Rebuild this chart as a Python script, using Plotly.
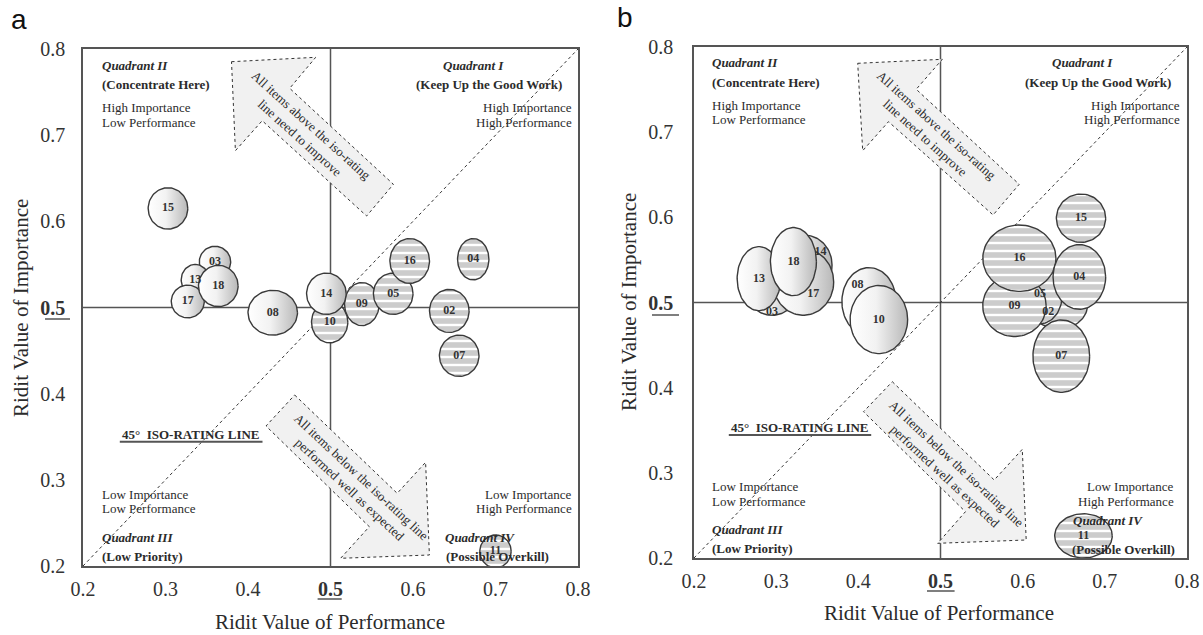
import numpy as np
import plotly.graph_objects as go

W, H = 1203, 635

# ---------------- Data: panel a (draw order) ----------------
a_items = ["03", "13", "17", "18", "15", "08", "10", "09", "14", "05", "16", "04", "02", "07", "11"]
a_perf = [0.360, 0.336, 0.327, 0.364, 0.303, 0.430, 0.499, 0.538, 0.495, 0.576, 0.596, 0.673, 0.644, 0.656, 0.700]
a_imp = [0.553, 0.532, 0.507, 0.525, 0.615, 0.494, 0.483, 0.504, 0.516, 0.516, 0.554, 0.556, 0.496, 0.444, 0.217]
a_rx = [0.019, 0.017, 0.020, 0.024, 0.024, 0.030, 0.022, 0.021, 0.024, 0.024, 0.024, 0.019, 0.024, 0.024, 0.019]
a_ry = [0.018, 0.018, 0.019, 0.024, 0.024, 0.026, 0.024, 0.025, 0.024, 0.024, 0.026, 0.024, 0.025, 0.024, 0.019]
a_group = ["L", "L", "L", "L", "L", "L", "P", "P", "L", "P", "P", "P", "P", "P", "P"]

# ---------------- Data: panel b (draw order) ----------------
b_items = ["03", "14", "17", "13", "18", "08", "10", "02", "05", "09", "16", "04", "07", "15", "11"]
b_perf = [0.295, 0.335, 0.333, 0.279, 0.321, 0.413, 0.425, 0.644, 0.621, 0.590, 0.596, 0.669, 0.647, 0.671, 0.674]
b_imp = [0.505, 0.544, 0.524, 0.528, 0.548, 0.501, 0.480, 0.497, 0.508, 0.496, 0.552, 0.530, 0.437, 0.599, 0.226]
b_rx = [0.026, 0.033, 0.037, 0.0265, 0.028, 0.033, 0.035, 0.035, 0.027, 0.0386, 0.0445, 0.032, 0.0345, 0.030, 0.035]
b_ry = [0.020, 0.035, 0.039, 0.0376, 0.040, 0.040, 0.040, 0.028, 0.033, 0.036, 0.039, 0.038, 0.0425, 0.0284, 0.026]
b_group = ["L", "L", "L", "L", "L", "L", "L", "P", "P", "P", "P", "P", "P", "P", "P"]
# label positions where the label is not at the bubble centre (occluded bubbles)
b_label_pos = {"03": (0.295, 0.489), "08": (0.399, 0.520), "14": (0.354, 0.559),
               "17": (0.345, 0.510), "05": (0.621, 0.510), "02": (0.631, 0.489)}

ticks = [0.2, 0.3, 0.4, 0.5, 0.6, 0.7, 0.8]
tick_text = ["0.2", "0.3", "0.4", "<b>0.5</b>", "0.6", "0.7", "0.8"]

SERIF = "Liberation Serif"
TXT = "#2b2b2b"


def PX(x):
    return x / W


def PY(y):
    return 1 - y / H


fig = go.Figure()


def add_bubbles(items, perf, imp, rx, ry, group, xa, ya, label_pos):
    t = np.linspace(0, 2 * np.pi, 91)
    for it, cx, cy, a, b, g in zip(items, perf, imp, rx, ry, group):
        ex = cx + a * np.cos(t)
        ey = cy + b * np.sin(t)
        kw = dict(x=ex, y=ey, mode="lines", fill="toself", xaxis=xa, yaxis=ya,
                  line=dict(color="#3a3a3a", width=1.4), hoverinfo="skip", showlegend=False)
        if g == "L":
            kw["fillcolor"] = "#e6e6e6"
            kw["fillgradient"] = dict(type="horizontal",
                                      colorscale=[[0, "#ffffff"], [0.45, "#f2f2f2"], [1, "#b8b8b8"]])
        else:
            kw["fillcolor"] = "#cccccc"
            kw["fillpattern"] = dict(shape="-", fgcolor="#ffffff", bgcolor="#cccccc",
                                     size=8, solidity=0.3)
        fig.add_trace(go.Scatter(**kw))
    lx = [label_pos.get(it, (cx, cy))[0] for it, cx, cy in zip(items, perf, imp)]
    ly = [label_pos.get(it, (cx, cy))[1] for it, cx, cy in zip(items, perf, imp)]
    fig.add_trace(go.Scatter(x=lx, y=ly, mode="text", text=["<b>%s</b>" % i for i in items],
                             textfont=dict(family=SERIF, size=12, color="#333333"),
                             xaxis=xa, yaxis=ya, hoverinfo="skip", showlegend=False))


add_bubbles(a_items, a_perf, a_imp, a_rx, a_ry, a_group, "x", "y", {})
add_bubbles(b_items, b_perf, b_imp, b_rx, b_ry, b_group, "x2", "y2", b_label_pos)

axis_common = dict(range=[0.2, 0.8], tickvals=ticks, ticktext=tick_text, showgrid=False,
                   zeroline=False, showline=True, mirror=True, linecolor="#555555", linewidth=1.5,
                   ticks="", automargin=False,
                   tickfont=dict(family=SERIF, size=20, color="#333333"), fixedrange=True)

fig.update_layout(
    template="none",
    width=W, height=H, margin=dict(l=0, r=0, t=0, b=0, autoexpand=False),
    paper_bgcolor="white", plot_bgcolor="white", showlegend=False,
    xaxis=dict(domain=[83 / W, 578 / W], anchor="y", ticklabelstandoff=4, **axis_common),
    yaxis=dict(domain=[PY(566), PY(49)], anchor="x", ticklabelstandoff=12, **axis_common),
    xaxis2=dict(domain=[694 / W, 1187 / W], anchor="y2", ticklabelstandoff=4, **axis_common),
    yaxis2=dict(domain=[PY(558), PY(47)], anchor="x2", ticklabelstandoff=15, **axis_common),
)

shapes = []
for xr, yr in (("x", "y"), ("x2", "y2")):
    shapes.append(dict(type="line", xref=xr, yref=yr, x0=0.5, x1=0.5, y0=0.2, y1=0.8,
                       line=dict(color="#555555", width=1.5), layer="below"))
    shapes.append(dict(type="line", xref=xr, yref=yr, x0=0.2, x1=0.8, y0=0.5, y1=0.5,
                       line=dict(color="#555555", width=1.5), layer="below"))
    shapes.append(dict(type="line", xref=xr, yref=yr, x0=0.2, x1=0.8, y0=0.2, y1=0.8,
                       line=dict(color="#333333", width=1, dash="dot"), layer="below"))

arrows = [
    [(231.5, 61.7), (315.7, 57.3), (289.7, 88.3), (393.4, 184.3), (366.6, 216), (262.2, 120.7), (235.4, 150.7)],
    [(294.7, 395), (397.2, 493.3), (425.6, 462.3), (429.4, 555), (340.6, 558.3), (369.3, 526.7), (266, 426)],
    [(857.7, 63.3), (942.3, 59.3), (916.2, 89.3), (1019.2, 184.3), (993.1, 215), (888.5, 121.7), (862.7, 150.7)],
    [(892.3, 381.7), (994.2, 480), (1022.3, 449.3), (1026.2, 540), (937.7, 543.3), (965.4, 511.7), (863.5, 411.7)],
]
for poly in arrows:
    path = "M " + " L ".join("%.5f,%.5f" % (PX(x), PY(y)) for x, y in poly) + " Z"
    shapes.append(dict(type="path", xref="paper", yref="paper", path=path, fillcolor="#f1f1f1",
                       line=dict(color="#333333", width=1, dash="dot"), layer="above"))

# underlines
for x0, x1, y, w in [(119.8, 262.5, 441.7, 2), (728.8, 871.2, 435, 2),
                     (317.6, 341.7, 599, 1.5), (45, 70, 319, 1.5),
                     (927, 954.6, 591, 1.5), (652, 679, 315, 1.5)]:
    shapes.append(dict(type="line", xref="paper", yref="paper", x0=PX(x0), x1=PX(x1), y0=PY(y), y1=PY(y),
                       line=dict(color="#555555", width=w)))
fig.update_layout(shapes=shapes)

ann = []


def T(text, x, y, anchor="left", size=13, angle=0, family=SERIF, color=TXT):
    ann.append(dict(text=text, x=PX(x), y=PY(y), xref="paper", yref="paper", xanchor=anchor,
                    yanchor="middle", showarrow=False, textangle=angle,
                    font=dict(family=family, size=size, color=color)))


# panel a texts
T("<b><i>Quadrant II</i></b>", 99.5, 65.7)
T("<b>(Concentrate Here)</b>", 99.5, 85)
T("High Importance", 99.5, 107.7)
T("Low Performance", 99.5, 122.7)
T("<b><i>Quadrant I</i></b>", 473.8, 65.7, "center")
T("<b>(Keep Up the Good Work)</b>", 489, 85, "center")
T("High Importance", 574, 107.7, "right")
T("High Performance", 574, 122.7, "right")
T("Low Importance", 99.5, 494)
T("Low Performance", 99.5, 508)
T("<b><i>Quadrant III</i></b>", 99.5, 537.3)
T("<b>(Low Priority)</b>", 99.5, 556.7)
T("Low Importance", 574, 494, "right")
T("High Performance", 574, 508, "right")
T("<b><i>Quadrant IV</i></b>", 442.8, 537.3)
T("<b>(Possible Overkill)</b>", 444, 556.7)
T("<b>45°  ISO-RATING LINE</b>", 191, 434, "center")
T("All items above the iso-rating<br>line need to improve", 305.7, 132, "center", angle=42)
T("All items below the iso-rating line<br>performed well as expected", 355.5, 482.5, "center", angle=43)
T("Ridit Value of Performance", 330, 621.7, "center", size=21)
T("Ridit Value of Importance", 21, 308, "center", size=21, angle=-90)
T("a", 19, 20, "center", size=28, family="Liberation Sans", color="#111111")

# panel b texts
T("<b><i>Quadrant II</i></b>", 710.4, 62.3)
T("<b>(Concentrate Here)</b>", 710.4, 82.7)
T("High Importance", 710.4, 105)
T("Low Performance", 710.4, 119.3)
T("<b><i>Quadrant I</i></b>", 1082.7, 62.3, "center")
T("<b>(Keep Up the Good Work)</b>", 1098, 82.7, "center")
T("High Importance", 1181.5, 105, "right")
T("High Performance", 1181.5, 119.3, "right")
T("Low Importance", 710.4, 486.7)
T("Low Performance", 710.4, 501)
T("<b><i>Quadrant III</i></b>", 710.4, 529.3)
T("<b>(Low Priority)</b>", 710.4, 548.3)
T("Low Importance", 1176, 486.7, "right")
T("High Performance", 1176, 501, "right")
T("<b><i>Quadrant IV</i></b>", 1071, 520)
T("<b>(Possible Overkill)</b>", 1070, 549.3)
T("<b>45°  ISO-RATING LINE</b>", 800, 427.7, "center")
T("All items above the iso-rating<br>line need to improve", 931, 132.5, "center", angle=42)
T("All items below the iso-rating line<br>performed well as expected", 951, 469.5, "center", angle=43)
T("Ridit Value of Performance", 939.4, 613.3, "center", size=21)
T("Ridit Value of Importance", 629, 302, "center", size=21, angle=-90)
T("b", 625, 18, "center", size=28, family="Liberation Sans", color="#111111")

fig.update_layout(annotations=ann)
fig.write_html("out.html", config={"displayModeBar": False},
               post_script="document.body.style.margin='0px';document.body.style.overflow='hidden';")
